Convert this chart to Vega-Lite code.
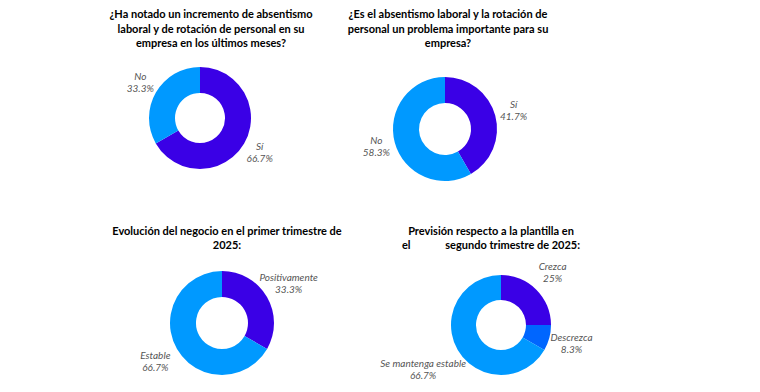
{
  "$schema": "https://vega.github.io/schema/vega-lite/v6.json",
  "background": "white",
  "autosize": {"type": "pad"},
  "padding": {"left": 90, "top": 9, "right": 0, "bottom": 0},
  "config": {
    "view": {"stroke": null},
    "title": {"font": "Lato", "fontSize": 11, "fontWeight": "bold", "color": "#000000", "anchor": "middle", "lineHeight": 14.5, "offset": 8}
  },
  "data": {
    "values": [
      {"panel": 1, "i": 1, "cat": "Sí", "v": 0.667},
      {"panel": 1, "i": 2, "cat": "No", "v": 0.333},
      {"panel": 2, "i": 1, "cat": "Sí", "v": 0.417},
      {"panel": 2, "i": 2, "cat": "No", "v": 0.583},
      {"panel": 3, "i": 1, "cat": "Positivamente", "v": 0.333},
      {"panel": 3, "i": 2, "cat": "Estable", "v": 0.667},
      {"panel": 4, "i": 1, "cat": "Crezca", "v": 0.25},
      {"panel": 4, "i": 2, "cat": "Descrezca", "v": 0.083},
      {"panel": 4, "i": 3, "cat": "Se mantenga estable", "v": 0.667}
    ]
  },
  "spacing": 24,
  "vconcat": [
    {
      "bounds": "flush",
      "spacing": 25,
      "hconcat": [
        {
          "width": 220, "height": 122,
          "title": {"text": ["¿Ha notado un incremento de absentismo", "laboral y de rotación de personal en su", "empresa en los últimos meses?"], "dx": 11},
          "transform": [{"filter": "datum.panel === 1"}],
          "encoding": {
            "theta": {"field": "v", "type": "quantitative", "stack": true},
            "order": {"field": "i", "type": "ordinal"}
          },
          "layer": [
            {"mark": {"type": "arc", "innerRadius": 25, "outerRadius": 51},
             "encoding": {"color": {"field": "cat", "type": "nominal", "legend": null,
              "scale": {"domain": ["Sí", "No", "Positivamente", "Estable", "Crezca", "Descrezca", "Se mantenga estable"], "range": ["#3a00e6", "#0099ff", "#3a00e6", "#0099ff", "#3a00e6", "#0066ff", "#0099ff"]}}}},
            {"mark": {"type": "text", "radius": 69, "dy": -6, "font": "Lato", "fontStyle": "italic", "fontSize": 10, "color": "#555555"}, "encoding": {"text": {"field": "cat"}}},
            {"mark": {"type": "text", "radius": 69, "dy": 6, "font": "Lato", "fontStyle": "italic", "fontSize": 10, "color": "#555555"}, "encoding": {"text": {"field": "v", "type": "quantitative", "format": ".1~%"}}}
          ]
        },
        {
          "width": 220, "height": 144,
          "title": {"text": ["¿Es el absentismo laboral y la rotación de", "personal un problema importante para su", "empresa?"], "dx": 3},
          "transform": [{"filter": "datum.panel === 2"}],
          "encoding": {
            "theta": {"field": "v", "type": "quantitative", "stack": true},
            "order": {"field": "i", "type": "ordinal"}
          },
          "layer": [
            {"mark": {"type": "arc", "innerRadius": 26, "outerRadius": 52}, "encoding": {"color": {"field": "cat", "type": "nominal", "legend": null}}},
            {"mark": {"type": "text", "radius": 71, "dy": -6, "font": "Lato", "fontStyle": "italic", "fontSize": 10, "color": "#555555"}, "encoding": {"text": {"field": "cat"}}},
            {"mark": {"type": "text", "radius": 71, "dy": 6, "font": "Lato", "fontStyle": "italic", "fontSize": 10, "color": "#555555"}, "encoding": {"text": {"field": "v", "type": "quantitative", "format": ".1~%"}}}
          ]
        }
      ]
    },
    {
      "bounds": "flush",
      "spacing": 20,
      "hconcat": [
        {
          "width": 264, "height": 128,
          "title": {"text": ["Evolución del negocio en el primer trimestre de", "2025:"], "dx": 5},
          "transform": [{"filter": "datum.panel === 3"}],
          "encoding": {
            "theta": {"field": "v", "type": "quantitative", "stack": true},
            "order": {"field": "i", "type": "ordinal"}
          },
          "layer": [
            {"mark": {"type": "arc", "innerRadius": 26, "outerRadius": 52}, "encoding": {"color": {"field": "cat", "type": "nominal", "legend": null}}},
            {"mark": {"type": "text", "radius": 77, "dy": -6, "font": "Lato", "fontStyle": "italic", "fontSize": 10, "color": "#555555"}, "encoding": {"text": {"field": "cat"}}},
            {"mark": {"type": "text", "radius": 77, "dy": 6, "font": "Lato", "fontStyle": "italic", "fontSize": 10, "color": "#555555"}, "encoding": {"text": {"field": "v", "type": "quantitative", "format": ".1~%"}}}
          ]
        },
        {
          "width": 254, "height": 132,
          "title": {"text": ["Previsión respecto a la plantilla en", "el\u00a0\u00a0\u00a0\u00a0\u00a0\u00a0\u00a0\u00a0\u00a0\u00a0\u00a0\u00a0 segundo trimestre de 2025:"], "dx": -10},
          "transform": [{"filter": "datum.panel === 4"}],
          "encoding": {
            "theta": {"field": "v", "type": "quantitative", "stack": true},
            "order": {"field": "i", "type": "ordinal"}
          },
          "layer": [
            {"mark": {"type": "arc", "innerRadius": 25, "outerRadius": 50}, "encoding": {"color": {"field": "cat", "type": "nominal", "legend": null}}},
            {"mark": {"type": "text", "radius": {"expr": "datum.i === 3 ? 90 : 73"}, "dy": -6, "font": "Lato", "fontStyle": "italic", "fontSize": 10, "color": "#555555"}, "encoding": {"text": {"field": "cat"}}},
            {"mark": {"type": "text", "radius": {"expr": "datum.i === 3 ? 90 : 73"}, "dy": 6, "font": "Lato", "fontStyle": "italic", "fontSize": 10, "color": "#555555"}, "encoding": {"text": {"field": "v", "type": "quantitative", "format": ".1~%"}}}
          ]
        }
      ]
    }
  ]
}
